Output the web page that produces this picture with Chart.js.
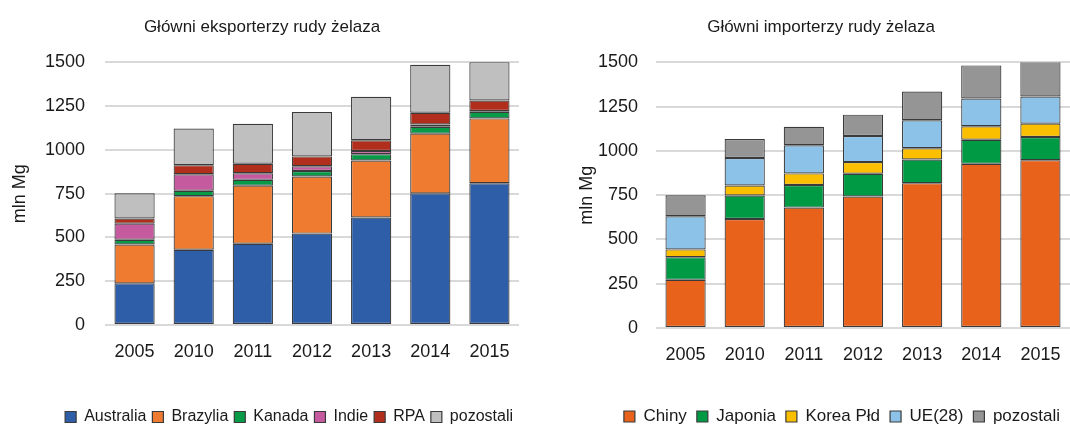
<!DOCTYPE html>
<html>
<head>
<meta charset="utf-8">
<script src="https://cdn.jsdelivr.net/npm/chart.js@4.4.1/dist/chart.umd.min.js"></script>
<style>
  html, body { margin: 0; padding: 0; background: #fff; overflow: hidden; }
  #left { position: absolute; left: 0; top: 0; }
  #right { position: absolute; left: 540px; top: 0; }
</style>
</head>
<body>
<canvas id="left" width="540" height="435"></canvas>
<canvas id="right" width="556" height="435"></canvas>
<script>
const years = ["2005", "2010", "2011", "2012", "2013", "2014", "2015"];
const yTicks = [0, 250, 500, 750, 1000, 1250, 1500];

// eksporterzy (mln Mg)
const australia = [238, 430, 464, 522, 614, 752, 810];
const brazylia  = [222, 306, 332, 326, 326, 341, 370];
const kanada    = [27, 31, 33, 32, 36, 39, 38];
const indie     = [92, 94, 38, 27, 18, 13, 5];
const rpa       = [29, 52, 54, 56, 61, 67, 59];
const pozostaliExp = [144, 209, 228, 253, 249, 274, 220];

// importerzy (mln Mg)
const chiny   = [272, 616, 680, 743, 818, 927, 948];
const japonia = [128, 132, 128, 128, 134, 136, 131];
const korea   = [44, 57, 65, 66, 63, 76, 75];
const ue28    = [187, 155, 159, 147, 158, 157, 153];
const pozostaliImp = [119, 107, 105, 121, 163, 187, 199];

const FONT = "'Liberation Sans Narrow', 'Arial Narrow', 'Liberation Sans', Arial, sans-serif";
Chart.defaults.font.family = FONT;
Chart.defaults.color = "#1a1a1a";

function ds(label, data, color) {
  return {
    label: label,
    data: data,
    backgroundColor: color,
    borderColor: "#3a3a3a",
    borderWidth: 1.2,
    borderSkipped: false,
    categoryPercentage: 1,
    barPercentage: 0.68
  };
}

function makeOptions(title, padLeft, axisWidth, padRight, tickPad, xHeight, legendPad, legendSize) {
  return {
    responsive: false,
    animation: false,
    devicePixelRatio: 1,
    layout: { padding: { left: padLeft, right: padRight, top: 0, bottom: 0 } },
    plugins: {
      title: {
        display: true,
        text: title,
        font: { size: 17, weight: "normal" },
        color: "#1a1a1a",
        padding: { top: 17, bottom: 25 }
      },
      legend: {
        position: "bottom",
        align: "end",
        labels: {
          boxWidth: 11,
          boxHeight: 11,
          padding: legendPad,
          font: { size: legendSize },
          color: "#1a1a1a"
        }
      },
      tooltip: { enabled: false }
    },
    scales: {
      x: {
        stacked: true,
        grid: { display: false },
        border: { display: false },
        ticks: { font: { size: 18 }, padding: 8, color: "#1a1a1a" },
        afterFit: function(scale) { scale.height = xHeight; }
      },
      y: {
        stacked: true,
        min: 0,
        max: 1500,
        afterBuildTicks: function(scale) { scale.ticks = yTicks.map(v => ({ value: v })); },
        grid: { color: "#d9d9d9", lineWidth: 2, drawTicks: false },
        border: { display: false },
        ticks: {
          font: { size: 18 },
          padding: tickPad,
          color: "#1a1a1a",
          callback: function(v) { return String(v); }
        },
        title: { display: true, text: "mln Mg", font: { size: 18 }, color: "#1a1a1a", padding: { top: 4, bottom: 4 } },
        afterFit: function(scale) { scale.width = axisWidth; }
      }
    }
  };
}

new Chart(document.getElementById("left"), {
  type: "bar",
  data: {
    labels: years,
    datasets: [
      ds("Australia", australia, "#2f5ea8"),
      ds("Brazylia", brazylia, "#ee7b30"),
      ds("Kanada", kanada, "#079a47"),
      ds("Indie", indie, "#c65a9e"),
      ds("RPA", rpa, "#b22e1c"),
      ds("pozostali", pozostaliExp, "#bfbfbf")
    ]
  },
  options: makeOptions("Główni eksporterzy rudy żelaza", 5, 100, 21, 20, 78, 6, 16)
});

new Chart(document.getElementById("right"), {
  type: "bar",
  data: {
    labels: years,
    datasets: [
      ds("Chiny", chiny, "#e8621b"),
      ds("Japonia", japonia, "#009a44"),
      ds("Korea Płd", korea, "#fbbf00"),
      ds("UE(28)", ue28, "#8cc2e8"),
      ds("pozostali", pozostaliImp, "#959595")
    ]
  },
  options: makeOptions("Główni importerzy rudy żelaza", 32, 84, 26, 18, 70, 10, 17)
});
</script>
</body>
</html>
